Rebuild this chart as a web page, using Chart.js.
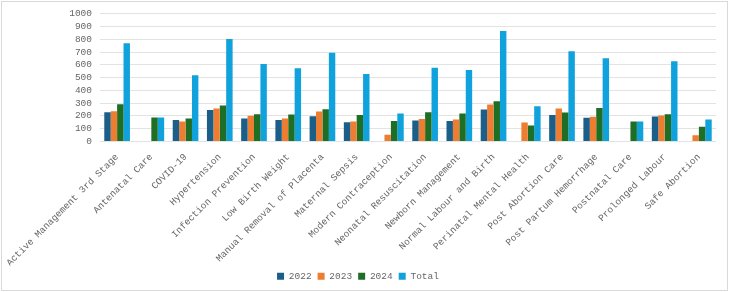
<!DOCTYPE html>
<html>
<head>
<meta charset="utf-8">
<script src="https://cdn.jsdelivr.net/npm/chart.js@4.4.1/dist/chart.umd.min.js"></script>
<style>
    html, body { margin: 0; padding: 0; background: #fff; }
    #wrap { position: relative; width: 729px; height: 292px; }
    #frame {
        position: absolute; left: 1px; top: 1px; width: 725px; height: 288px;
        border: 1px solid #d9d9d9; pointer-events: none;
    }
</style>
</head>
<body>
<div id="wrap">
    <canvas id="trainingChart" width="729" height="292"></canvas>
    <div id="frame"></div>
</div>
<script>
// kategori pelatihan
const categories = [
    "Active Management 3rd Stage", "Antenatal Care", "COVID-19", "Hypertension",
    "Infection Prevention", "Low Birth Weight", "Manual Removal of Placenta",
    "Maternal Sepsis", "Modern Contraception", "Neonatal Resuscitation",
    "Newborn Management", "Normal Labour and Birth", "Perinatal Mental Health",
    "Post Abortion Care", "Post Partum Hemorrhage", "Postnatal Care",
    "Prolonged Labour", "Safe Abortion"
];

const values2022 = [229, 0, 169, 247, 180, 169, 198, 151, 0, 164, 161, 250, 0, 208, 185, 0, 195, 0];
const values2023 = [237, 0, 156, 258, 201, 180, 234, 156, 52, 177, 172, 289, 148, 258, 193, 0, 203, 49];
const values2024 = [291, 188, 180, 281, 214, 211, 253, 208, 161, 229, 219, 315, 125, 227, 263, 156, 214, 115];
const valuesTotal = [768, 188, 518, 802, 607, 573, 695, 529, 219, 578, 560, 865, 276, 706, 651, 156, 628, 172];

const yTicks = [0, 100, 200, 300, 400, 500, 600, 700, 800, 900, 1000];

const fontMono = { family: "'Liberation Mono', 'DejaVu Sans Mono', monospace", size: 9.5 };
const textGray = "#666666";

document.addEventListener("DOMContentLoaded", function () {
    var ctx = document.getElementById("trainingChart").getContext("2d");

    function seri(label, data, color) {
        return {
            label: label,
            data: data,
            backgroundColor: color,
            borderWidth: 0,
            barPercentage: 1.0,
            categoryPercentage: 0.75,
        };
    }

    new Chart(ctx, {
        type: "bar",
        data: {
            labels: categories,
            datasets: [
                seri("2022", values2022, "#1b5e88"),
                seri("2023", values2023, "#ed7d31"),
                seri("2024", values2024, "#1e6e25"),
                seri("Total", valuesTotal, "#10a2dd"),
            ],
        },
        options: {
            responsive: false,
            animation: false,
            layout: {
                padding: { top: 3, right: 13, left: 0, bottom: 1 },
            },
            plugins: {
                tooltip: { enabled: false },
                legend: {
                    position: "bottom",
                    labels: {
                        boxWidth: 7,
                        boxHeight: 7,
                        padding: 6,
                        color: textGray,
                        font: fontMono,
                    },
                },
            },
            scales: {
                x: {
                    afterFit: function (scale) {
                        scale.height = 124; // biar area plot turun sampai y=140
                    },
                    grid: { display: false },
                    border: { display: false },
                    ticks: {
                        color: textGray,
                        font: fontMono,
                        minRotation: 45,
                        maxRotation: 45,
                        autoSkip: false,
                        padding: 2,
                    },
                },
                y: {
                    min: yTicks[0],
                    max: yTicks[yTicks.length - 1],
                    afterFit: function (scale) {
                        scale.width = 100;
                    },
                    grid: { color: "#e3e3e3", drawTicks: false },
                    border: { display: false },
                    ticks: {
                        stepSize: 100,
                        autoSkip: false,
                        color: textGray,
                        font: fontMono,
                        padding: 8,
                        callback: function (value) {
                            return String(value);
                        },
                    },
                },
            },
        },
    });
});
</script>
</body>
</html>
